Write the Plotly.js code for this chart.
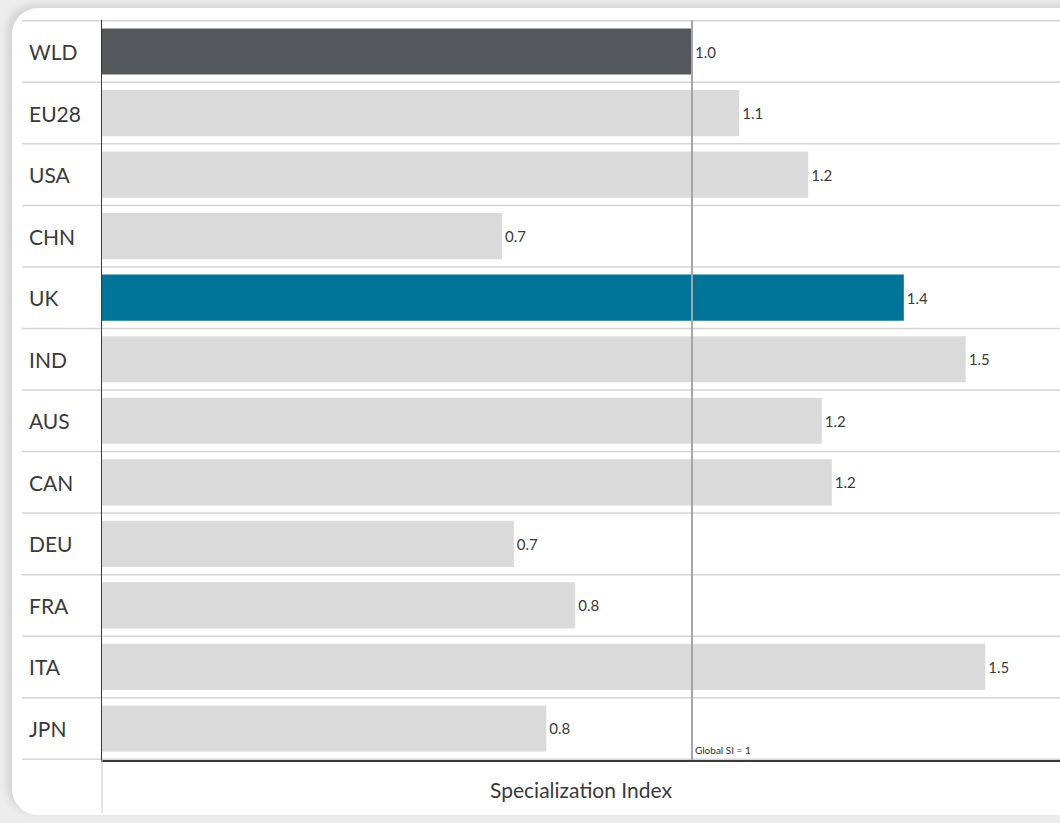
<!DOCTYPE html>
<html>
<head>
<meta charset="utf-8">
<script src="https://cdn.plot.ly/plotly-3.0.1.min.js"></script>
<style>
  html, body { margin: 0; padding: 0; width: 1060px; height: 823px; overflow: hidden; background: #ececec; }
  #card { position: absolute; left: 12px; top: 8px; width: 1110px; height: 807px; background: #ffffff;
          border-radius: 26px; box-shadow: -5px -3px 7px rgba(0,0,0,0.10); }
  #chart { position: absolute; left: 0; top: 0; width: 1060px; height: 823px; }
  #chart text { font-variant-numeric: oldstyle-nums; }
</style>
</head>
<body>
<div id="card"></div>
<div id="chart"></div>
<script>
// Data
const countries = ["WLD", "EU28", "USA", "CHN", "UK", "IND", "AUS", "CAN", "DEU", "FRA", "ITA", "JPN"];
const specIndex = [1.0, 1.08, 1.197, 0.678, 1.359, 1.464, 1.22, 1.237, 0.698, 0.802, 1.497, 0.753];
const highlight = {"WLD": "#54575b", "UK": "#007499"};
const baseColor = "#dadada";
const globalSI = 1;
const axisTitle = "Specialization Index";
const refLabel = "Global SI = 1";

const W = 1060, H = 823;
const mL = 102, mR = 0, mT = 20, mB = 63;
const plotW = W - mL - mR, plotH = H - mT - mB;
const pxPerUnit = 590;
const xMax = plotW / pxPerUnit;

const colors = countries.map(c => highlight[c] || baseColor);

const trace = {
  type: "bar",
  orientation: "h",
  y: countries,
  x: specIndex,
  marker: { color: colors, line: { width: 0 } },
  width: 0.75,
  text: specIndex.map(v => v.toFixed(1)),
  textposition: "outside",
  cliponaxis: false,
  textfont: { family: "Lato, 'Open Sans', sans-serif", size: 15, color: "#3a3a3a" },
  hoverinfo: "skip"
};

const shapes = [];
// horizontal separators at category boundaries, extending into label area
for (let i = 0; i <= countries.length; i++) {
  shapes.push({
    type: "line", xref: "paper", yref: "y",
    x0: (22 - mL) / plotW, x1: 1.02,
    y0: i - 0.5, y1: i - 0.5,
    line: { color: "#d4d4d4", width: 1.5 }, layer: "below"
  });
}
// light continuation of the y axis below the x axis
shapes.push({
  type: "line", xref: "paper", yref: "paper",
  x0: 0, x1: 0, y0: -(813 - 760) / plotH, y1: 0,
  line: { color: "#cccccc", width: 1 }
});
// global SI reference line
shapes.push({
  type: "line", xref: "x", yref: "paper",
  x0: globalSI, x1: globalSI, y0: 0, y1: 1,
  line: { color: "#a6a6a6", width: 2 }, layer: "above"
});

const annotations = countries.map(c => ({
  xref: "paper", yref: "y",
  x: (27 - mL) / plotW, y: c,
  xanchor: "left", yanchor: "middle",
  text: c, showarrow: false,
  font: { family: "Lato, 'Open Sans', sans-serif", size: 21, color: "#3a3a3a" }
}));
annotations.push({
  xref: "x", yref: "paper",
  x: globalSI, y: 0, xanchor: "left", yanchor: "bottom",
  xshift: 1, yshift: 2,
  text: refLabel, showarrow: false,
  font: { family: "Lato, 'Open Sans', sans-serif", size: 10, color: "#333333" }
});

const layout = {
  width: W, height: H,
  margin: { l: mL, r: mR, t: mT, b: mB, pad: 0 },
  paper_bgcolor: "rgba(0,0,0,0)",
  plot_bgcolor: "rgba(0,0,0,0)",
  showlegend: false,
  bargap: 0.25,
  xaxis: {
    range: [0, xMax], showgrid: false, zeroline: false,
    showticklabels: false, ticks: "",
    showline: true, linecolor: "#3a3a3a", linewidth: 2,
    fixedrange: true,
    title: { text: axisTitle, standoff: 22,
             font: { family: "Lato, 'Open Sans', sans-serif", size: 21, color: "#3a3a3a" } }
  },
  yaxis: {
    type: "category", autorange: "reversed",
    showgrid: false, zeroline: false, showticklabels: false, ticks: "",
    showline: true, linecolor: "#3a3a3a", linewidth: 1.5,
    fixedrange: true
  },
  shapes: shapes,
  annotations: annotations,
  font: { family: "Lato, 'Open Sans', sans-serif" }
};

Plotly.newPlot("chart", [trace], layout, { displayModeBar: false, staticPlot: true });
</script>
</body>
</html>
